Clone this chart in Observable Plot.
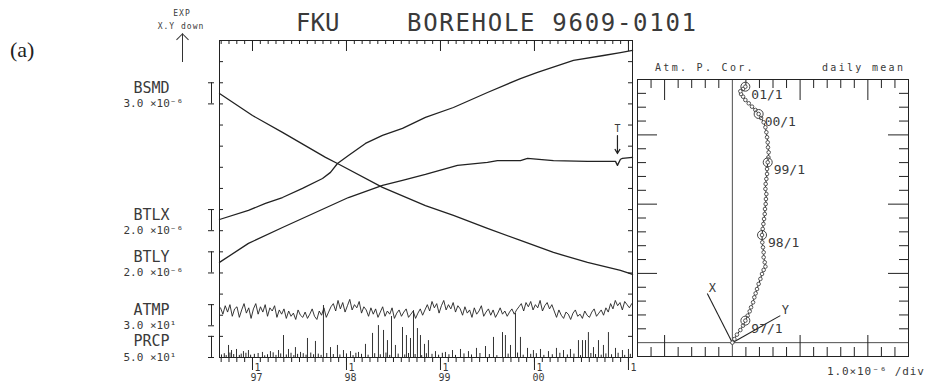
<!DOCTYPE html>
<html><head><meta charset="utf-8">
<script src="https://cdn.jsdelivr.net/npm/d3@7"></script>
<script src="https://cdn.jsdelivr.net/npm/@observablehq/plot@0.6"></script>
<style>
body{margin:0;background:#fff;}
#wrap{position:relative;width:928px;height:383px;overflow:hidden;background:#fff;}
#wrap svg{position:absolute;left:0;top:0;}
.t{position:absolute;white-space:nowrap;font-family:"DejaVu Sans Mono",monospace;color:#3a3a3a;line-height:1;}
</style></head><body><div id="wrap"></div>
<script>
// ---------- data (y in chart divisions) ----------
// main panel: x = decimal year
const bsmdT = [1996.649, 1997.0, 1997.319, 1997.777, 1997.904, 1998.383, 1998.840, 1999.138, 1999.500, 1999.851, 2000.202, 2000.564, 2000.915, 2001.043];
const bsmdV = [12.49, 11.45, 10.65, 9.47, 9.18, 8.05, 7.19, 6.72, 6.11, 5.54, 4.97, 4.50, 4.12, 3.93];

const btlxT = [1996.649, 1996.957, 1997.138, 1997.319, 1997.532, 1997.745, 1997.830, 1997.904, 1998.021, 1998.202, 1998.383, 1998.596, 1998.840, 1999.138, 1999.500, 1999.851, 2000.032, 2000.415, 2000.734, 2000.915, 2001.043];
const btlxV = [6.53, 6.96, 7.29, 7.57, 8.00, 8.47, 8.76, 9.18, 9.56, 10.13, 10.51, 10.84, 11.36, 11.83, 12.54, 13.20, 13.49, 14.06, 14.29, 14.43, 14.53];

const btlyT = [1996.649, 1996.957, 1997.319, 1997.670, 1998.021, 1998.383, 1998.596, 1998.840, 1999.181, 1999.500, 1999.606, 1999.851, 1999.926, 2000.202, 2000.564, 2000.862, 2000.883, 2000.915, 2000.936, 2001.043];
const btlyV = [4.50, 5.40, 6.15, 6.86, 7.57, 8.14, 8.38, 8.66, 9.09, 9.23, 9.32, 9.32, 9.42, 9.32, 9.28, 9.28, 9.09, 9.38, 9.42, 9.47];

// ATMP: sampled every atmpStep years from atmpStart
const atmpStart = 1996.66, atmpStep = 0.025;
const atmpV = [
 2.35,2.05,2.45,2.15,2.50,1.95,2.30,2.40,1.90,2.25,2.55,2.10,2.35,1.85,
 2.30,2.55,2.05,2.40,2.15,2.50,1.95,2.35,2.20,2.45,1.90,2.25,2.05,2.30,
 1.85,2.20,1.95,2.10,1.80,2.25,2.00,1.90,2.15,1.85,2.05,2.30,1.95,1.80,2.20,2.00,2.35,1.90,2.15,2.40,
 2.55,2.20,2.70,2.30,2.60,2.15,2.45,2.75,2.25,2.50,2.35,2.65,2.10,2.40,
 2.25,1.95,2.35,2.05,2.30,1.90,2.15,2.40,1.95,2.20,2.05,2.35,1.85,2.10,2.25,1.95,2.15,2.30,1.90,2.05,2.20,1.85,2.10,2.30,2.00,2.25,
 2.50,2.20,2.65,2.35,2.55,2.10,2.45,2.70,2.25,2.50,2.30,2.60,2.15,2.45,
 2.30,2.00,2.40,2.10,2.25,1.90,2.35,2.05,2.20,2.45,1.95,2.15,2.30,2.00,2.25,1.90,2.10,2.35,2.05,2.20,1.95,2.15,2.30,2.05,2.25,2.40,
 2.55,2.20,2.60,2.40,2.65,2.25,2.50,2.35,2.70,2.20,2.45,2.60,2.30,2.50,
 2.20,1.90,2.25,2.00,1.85,2.15,2.05,1.80,2.10,2.25,1.95,2.05,1.85,2.20,2.00,1.90,2.15,2.30,1.95,2.10,2.25,2.00,2.35,2.15,
 2.55,2.30,2.70,2.45,2.60,2.25,2.65,2.50,2.35,2.55];

// PRCP spikes
const prcpT = [1996.745,1996.777,1996.830,1996.904,1996.957,1997.106,1997.191,1997.277,1997.330,1997.383,1997.457,1997.511,1997.585,1997.670,1997.755,1997.830,1997.904,1997.968,1998.043,1998.128,1998.202,1998.277,1998.340,1998.394,1998.436,1998.479,1998.521,1998.596,1998.638,1998.681,1998.713,1998.755,1998.787,1998.830,1998.872,1998.947,1999.053,1999.128,1999.213,1999.298,1999.383,1999.479,1999.564,1999.660,1999.691,1999.745,1999.798,1999.851,1999.926,1999.989,2000.064,2000.149,2000.234,2000.309,2000.383,2000.468,2000.511,2000.543,2000.574,2000.628,2000.681,2000.734,2000.787,2000.862,2000.936,2001.000];
const prcpV = [0.57,0.33,0.38,0.28,0.33,0.24,0.28,0.33,1.04,0.38,0.47,0.24,0.90,0.76,2.46,0.47,0.57,0.33,0.28,0.24,0.62,1.14,1.51,1.28,0.80,1.94,0.57,1.42,1.04,0.90,2.22,1.37,1.04,0.62,0.80,0.28,0.24,0.33,0.38,0.28,0.43,0.52,0.95,1.18,1.04,0.57,2.08,0.95,0.43,0.33,0.38,0.28,0.43,0.33,0.38,0.80,0.80,0.80,1.18,0.47,0.80,0.57,1.18,0.43,0.33,0.38];
const prcpLightT = [1996.67,1996.70,1996.72,1996.76,1996.80,1996.86,1996.88,1996.93,1996.98,1997.02,1997.06,1997.13,1997.16,1997.22,1997.25,1997.30,1997.36,1997.41,1997.44,1997.48,1997.54,1997.57,1997.62,1997.65,1997.70,1997.73,1997.79,1997.86,1997.93,1998.00,1998.07,1998.10,1998.16,1998.23,1998.30,1998.36,1998.42,1998.46,1998.55,1998.62,1998.66,1998.73,1998.80,1998.85,1998.91,1998.98,1999.02,1999.09,1999.16,1999.25,1999.33,1999.42,1999.52,1999.60,1999.72,1999.82,1999.88,1999.96,2000.02,2000.10,2000.19,2000.27,2000.35,2000.42,2000.49,2000.60,2000.65,2000.71,2000.76,2000.82,2000.89,2000.96,2001.02];
const prcpLightV = [0.12,0.18,0.09,0.21,0.14,0.10,0.16,0.20,0.11,0.15,0.19,0.08,0.13,0.22,0.10,0.17,0.12,0.20,0.09,0.15,0.18,0.11,0.21,0.13,0.16,0.10,0.19,0.14,0.12,0.17,0.09,0.20,0.15,0.11,0.18,0.13,0.21,0.10,0.16,0.12,0.19,0.14,0.09,0.18,0.15,0.11,0.20,0.13,0.10,0.17,0.12,0.19,0.14,0.09,0.16,0.21,0.11,0.15,0.18,0.10,0.13,0.20,0.12,0.16,0.09,0.19,0.14,0.11,0.17,0.13,0.20,0.10,0.15];

// channel legend: name, scale, bar range (divisions)
const chanNames = ["BSMD","BTLX","BTLY","ATMP","PRCP"];
const chanUnits = ["3.0 ×10⁻⁶","2.0 ×10⁻⁶","2.0 ×10⁻⁶","3.0 ×10¹","5.0 ×10¹"];
const chanLo = [12, 6, 4, 1.5, 0];
const chanHi = [13, 7, 5, 2.5, 1];

const yearTicks = [1997, 1998, 1999, 2000, 2001];
const yearLabels = ["97", "98", "99", "00", ""];

const eventT = [2000.883], eventTop = [10.5], eventTip = [9.65], eventLabel = ["T"];

// right panel (tilt vector, divisions)
const hodoX = [0,0.15,0.34,0.59,0.79,0.96,1.13,1.28,1.38,1.53,1.62,1.72,1.82,1.94,2.07,2.19,2.31,2.44,2.39,2.31,2.31,2.26,2.21,2.19,2.24,2.29,2.34,2.39,2.41,2.46,2.48,2.51,2.44,2.46,2.51,2.56,2.56,2.61,2.66,2.68,2.63,2.61,2.56,2.51,2.44,2.31,2.12,1.94,1.70,1.45,1.21,0.96,0.79,0.64,0.59,0.79,0.96];
const hodoY = [0,0.26,0.58,0.91,1.23,1.59,1.95,2.26,2.55,2.91,3.27,3.56,3.87,4.24,4.60,4.96,5.25,5.49,5.80,6.16,6.52,6.88,7.24,7.77,8.21,8.57,8.93,9.29,9.65,10.01,10.37,10.73,11.10,11.46,11.82,12.18,12.54,13.02,13.38,13.74,14.10,14.46,14.83,15.19,15.55,15.91,16.22,16.51,16.80,17.04,17.28,17.52,17.76,17.95,18.15,18.32,18.48];
const markIdx = [5, 23, 37, 47, 56];
const markLabels = ["97/1", "98/1", "99/1", "00/1", "01/1"];
const axisNames = ["X", "Y"];
const axisDX = [-1.85, 3.54];
const axisDY = [3.54, 1.95];

// ---------- build ----------
const INK = "#222", TXT = "#3a3a3a", MONO = "DejaVu Sans Mono";
const X0 = 1996.649, X1 = 2001.043;
const zip = (a, b) => a.map((t, i) => ({t, v: b[i]}));
const bsmd = zip(bsmdT, bsmdV), btlx = zip(btlxT, btlxV), btly = zip(btlyT, btlyV);
const atmp = atmpV.map((v, i) => ({t: atmpStart + i * atmpStep, v}));
const prcp = zip(prcpT, prcpV), prcpLight = zip(prcpLightT, prcpLightV);
const chans = chanNames.map((name, i) => ({name, unit: chanUnits[i], lo: chanLo[i], hi: chanHi[i]}));
const caps = chans.flatMap(c => [c.lo, c.hi]);
const events = eventT.map((t, i) => ({t, top: eventTop[i], tip: eventTip[i], label: eventLabel[i]}));
const months = d3.range(0, 53).map(i => 1996 + (8 + i) / 12).filter(d => d > X0 && d < X1);
const divs = d3.range(1, 15);

const main = Plot.plot({
  width: 928, height: 383,
  marginLeft: 219, marginRight: 296, marginTop: 40, marginBottom: 26,
  x: {domain: [X0, X1], axis: null},
  y: {domain: [0, 15], axis: null},
  style: {background: "transparent", overflow: "visible"},
  marks: [
    Plot.frame({stroke: INK}),
    Plot.tickX(months, {x: d => d, stroke: INK, insetBottom: 313}),
    Plot.tickX(yearTicks, {x: d => d, stroke: INK, insetBottom: 306}),
    Plot.tickX(months, {x: d => d, stroke: INK, insetTop: 317, insetBottom: -5}),
    Plot.tickX(yearTicks, {x: d => d, stroke: INK, insetTop: 317, insetBottom: -13}),
    Plot.tickY(divs, {y: d => d, stroke: INK, insetRight: 409}),
    Plot.tickY(divs, {y: d => d, stroke: INK, insetLeft: 409}),
    Plot.text(yearTicks, {x: d => d, y: 0, text: () => "1", dx: 2, dy: 10, textAnchor: "start", fontFamily: MONO, fontSize: 10, fill: TXT}),
    Plot.text(yearTicks, {x: d => d, y: 0, text: (d, i) => yearLabels[i], dx: 4, dy: 20, fontFamily: MONO, fontSize: 10, fill: TXT}),
    // scale bars
    Plot.ruleX(chans, {x: X0, y1: "lo", y2: "hi", dx: -8, stroke: INK}),
    Plot.tickY(caps, {y: d => d, stroke: INK, insetLeft: -11, insetRight: 418}),
    Plot.text(chans, {x: X0, y: "lo", text: "name", dx: -86, dy: -16, textAnchor: "start", fontFamily: MONO, fontSize: 15, letterSpacing: 0.6, fill: TXT}),
    Plot.text(chans, {x: X0, y: "lo", text: "unit", dx: -96, dy: 0, textAnchor: "start", fontFamily: MONO, fontSize: 11, letterSpacing: 0.6, fill: TXT}),
    // series
    Plot.ruleX(prcpLight, {x: "t", y1: 0, y2: "v", stroke: INK, strokeWidth: 1}),
    Plot.ruleX(prcp, {x: "t", y1: 0, y2: "v", stroke: "#333", strokeWidth: 1}),
    Plot.line(atmp, {x: "t", y: "v", stroke: INK, strokeWidth: 0.9}),
    Plot.line(bsmd, {x: "t", y: "v", stroke: INK, strokeWidth: 1.3}),
    Plot.line(btlx, {x: "t", y: "v", stroke: INK, strokeWidth: 1.3}),
    Plot.line(btly, {x: "t", y: "v", stroke: INK, strokeWidth: 1.3}),
    Plot.arrow(events, {x1: "t", x2: "t", y1: "top", y2: "tip", stroke: INK, headLength: 6, strokeWidth: 1.2}),
    Plot.text(events, {x: "t", y: "top", text: "label", dy: -7, fontFamily: MONO, fontSize: 10, fill: TXT})
  ]
});

const hodo = hodoX.map((x, i) => ({x, y: hodoY[i]}));
const hmarks = markIdx.map((k, i) => ({x: hodoX[k], y: hodoY[k], label: markLabels[i]}));
const vecs = axisNames.map((name, i) => ({name, x: axisDX[i], y: axisDY[i]}));
const xMinor = d3.range(-6, 13).filter(d => d % 5 !== 0), xMajor = [-5, 5, 10];
const yMinor = d3.range(1, 19).filter(d => d % 5 !== 0), yMajor = [5, 10, 15];

const right = Plot.plot({
  width: 928, height: 383,
  marginLeft: 637, marginRight: 20, marginTop: 79, marginBottom: 27,
  x: {domain: [-7, 13], axis: null},
  y: {domain: [-1, 19], axis: null},
  style: {background: "transparent", overflow: "visible"},
  marks: [
    Plot.frame({stroke: INK}),
    Plot.ruleX([0], {stroke: INK, strokeWidth: 0.8}),
    Plot.ruleY([0], {stroke: INK, strokeWidth: 0.8}),
    Plot.tickX(xMinor, {x: d => d, stroke: INK, insetTop: 268}),
    Plot.tickX(xMajor, {x: d => d, stroke: INK, insetTop: 256}),
    Plot.tickX(xMinor, {x: d => d, stroke: INK, insetBottom: 268}),
    Plot.tickX(xMajor, {x: d => d, stroke: INK, insetBottom: 256}),
    Plot.tickY(yMinor, {y: d => d, stroke: INK, insetRight: 262}),
    Plot.tickY(yMajor, {y: d => d, stroke: INK, insetRight: 251}),
    Plot.tickY(yMinor, {y: d => d, stroke: INK, insetLeft: 262}),
    Plot.tickY(yMajor, {y: d => d, stroke: INK, insetLeft: 251}),
    Plot.link(vecs, {x1: 0, y1: 0, x2: "x", y2: "y", stroke: INK, strokeWidth: 1.1}),
    Plot.text(vecs, {x: "x", y: "y", text: "name", dx: 5, dy: -5, fontFamily: MONO, fontSize: 12, fill: TXT}),
    Plot.line(hodo, {x: "x", y: "y", stroke: INK, strokeWidth: 1}),
    Plot.dot(hodo, {x: "x", y: "y", r: 1.8, stroke: "#444", fill: "white", strokeWidth: 0.9}),
    Plot.dot(hmarks, {x: "x", y: "y", r: 4.5, stroke: "#444", strokeWidth: 1}),
    Plot.text(hmarks, {x: "x", y: "y", text: "label", dx: 6, dy: 8, textAnchor: "start", fontFamily: MONO, fontSize: 13, fill: TXT})
  ]
});

const wrap = document.getElementById("wrap");
wrap.appendChild(main);
wrap.appendChild(right);

function label(txt, css) {
  const d = document.createElement("div");
  d.className = "t";
  d.textContent = txt;
  Object.assign(d.style, css);
  wrap.appendChild(d);
  return d;
}
label("(a)", {left: "10px", top: "39px", fontFamily: "Liberation Serif, serif", fontSize: "22px", color: "#222"});
label("EXP", {left: "182px", top: "9.5px", fontSize: "8px", letterSpacing: "1px", transform: "translateX(-50%)"});
label("X.Y down", {left: "181px", top: "22.5px", fontSize: "8px", letterSpacing: "1px", transform: "translateX(-50%)"});
label("FKU", {left: "296px", top: "10.5px", fontSize: "24px", letterSpacing: "0px"});
label("BOREHOLE 9609-0101", {left: "407px", top: "10.5px", fontSize: "24px", letterSpacing: "1.7px"});
label("Atm. P. Cor.", {left: "655px", top: "62.5px", fontSize: "10px", letterSpacing: "2.3px"});
label("daily mean", {left: "822px", top: "62.5px", fontSize: "10px", letterSpacing: "2.3px"});
label("1.0×10⁻⁶ /div", {left: "827px", top: "365.5px", fontSize: "11px", letterSpacing: "0.9px"});
// orientation arrow next to EXP
const shaft = document.createElement("div");
Object.assign(shaft.style, {position: "absolute", left: "182px", top: "34px", width: "0", height: "28px", borderLeft: "1px solid #333"});
wrap.appendChild(shaft);
const head = document.createElement("div");
Object.assign(head.style, {position: "absolute", left: "178px", top: "35px", width: "8px", height: "8px", borderLeft: "1px solid #333", borderTop: "1px solid #333", transform: "rotate(45deg)"});
wrap.appendChild(head);
</script></body></html>
